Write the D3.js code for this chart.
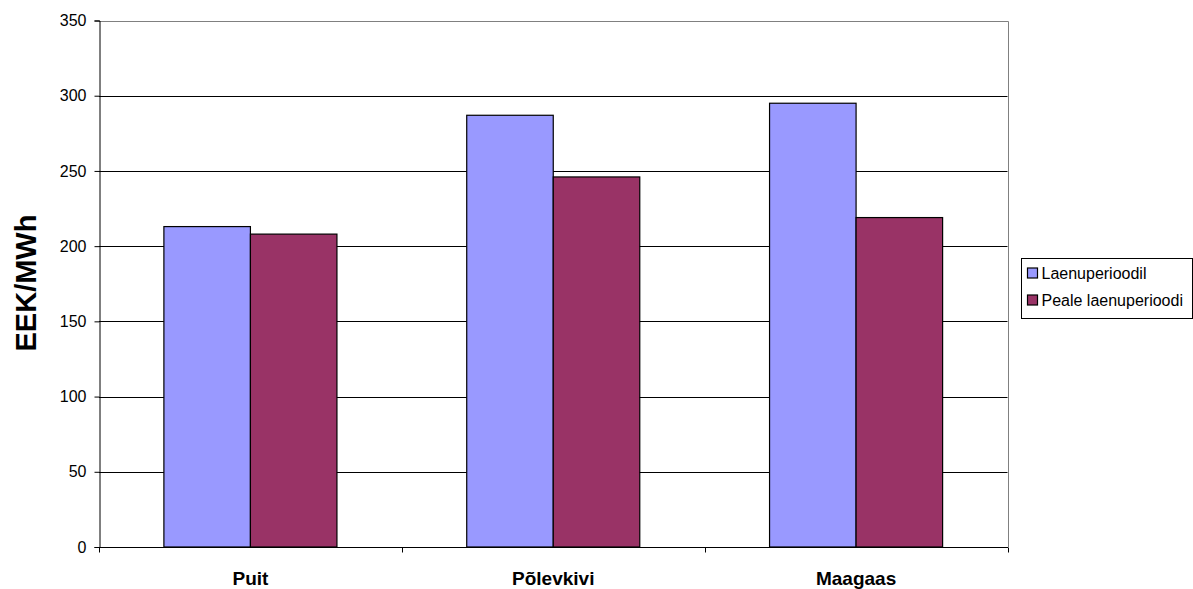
<!DOCTYPE html>
<html>
<head>
<meta charset="utf-8">
<script src="https://cdn.jsdelivr.net/npm/d3@7"></script>
<style>
  html, body { margin: 0; padding: 0; background: #fff; }
  svg { display: block; font-family: "Liberation Sans", Arial, sans-serif; }
</style>
</head>
<body>
<svg id="chart" width="1193" height="589"></svg>
<script>
// Heat price per fuel type, EEK/MWh
const categories = ["Puit", "Põlevkivi", "Maagaas"];
const seriesNames = ["Laenuperioodil", "Peale laenuperioodi"];
const loanPeriod = [213, 287, 295];
const afterLoanPeriod = [208, 246, 219];
const yTicks = [0, 50, 100, 150, 200, 250, 300, 350];
const colors = ["#9999ff", "#993366"];

const seriesValues = [loanPeriod, afterLoanPeriod];

const svg = d3.select("#chart");
const plot = { left: 99, right: 1007.5, top: 20.5, bottom: 547 };

const y = d3.scaleLinear().domain([0, 350]).range([plot.bottom, plot.top]);
const x0 = d3.scaleBand().domain(categories).range([plot.left, plot.right]).padding(0);
// two bars take 2 / 3.5 of each category slot, centred
const groupW = x0.bandwidth() * 2 / 3.5;
const x1 = d3.scaleBand().domain(seriesNames).range([0, groupW]).padding(0);

// horizontal gridlines
svg.append("g")
  .selectAll("line")
  .data(yTicks.filter(t => t > 0 && t < 350))
  .join("line")
  .attr("x1", plot.left).attr("x2", plot.right)
  .attr("y1", d => Math.round(y(d)) + 0.5).attr("y2", d => Math.round(y(d)) + 0.5)
  .attr("stroke", "#000").attr("stroke-width", 1);

// plot area frame (top and right)
svg.append("path")
  .attr("d", `M${plot.left},${Math.round(plot.top) + 0.5}H${Math.round(plot.right) + 0.5}V${plot.bottom}`)
  .attr("fill", "none").attr("stroke", "#808080").attr("stroke-width", 1);

// bars
const groups = svg.append("g")
  .selectAll("g")
  .data(categories)
  .join("g")
  .attr("transform", d => `translate(${x0(d) + (x0.bandwidth() - groupW) / 2},0)`);

groups.selectAll("rect")
  .data((c, i) => seriesNames.map((s, k) => ({ s, v: seriesValues[k][i], k })))
  .join("rect")
  .attr("x", d => x1(d.s))
  .attr("y", d => y(d.v))
  .attr("width", x1.bandwidth())
  .attr("height", d => plot.bottom - y(d.v))
  .attr("fill", d => colors[d.k])
  .attr("stroke", "#000")
  .attr("stroke-width", 1.2);

// y axis
const yAxis = d3.axisLeft(y).tickValues(yTicks).tickSize(5).tickPadding(8);
const gy = svg.append("g")
  .attr("transform", `translate(${plot.left + 0.5},0)`)
  .call(yAxis);
gy.select(".domain").attr("stroke", "#000");
gy.selectAll(".tick line").attr("stroke", "#000");
gy.selectAll(".tick text")
  .attr("font-size", 16)
  .attr("font-family", "Liberation Sans, Arial, sans-serif")
  .attr("fill", "#000");

// x axis with ticks at category boundaries
const gx = svg.append("g")
  .attr("transform", `translate(0,${plot.bottom + 0.5})`);
gx.append("line")
  .attr("x1", plot.left).attr("x2", plot.right + 0.5)
  .attr("stroke", "#000");
const bounds = categories.map(c => x0(c)).concat([plot.right]);
gx.selectAll("line.tk")
  .data(bounds)
  .join("line")
  .attr("class", "tk")
  .attr("x1", d => Math.round(d) + 0.5).attr("x2", d => Math.round(d) + 0.5)
  .attr("y1", 0).attr("y2", 5)
  .attr("stroke", "#000");
gx.selectAll("text")
  .data(categories)
  .join("text")
  .attr("x", d => x0(d) + x0.bandwidth() / 2)
  .attr("y", 37)
  .attr("text-anchor", "middle")
  .attr("font-size", 19)
  .attr("font-weight", "bold")
  .attr("fill", "#000")
  .text(d => d);

// y axis title
svg.append("text")
  .attr("transform", "translate(36,283) rotate(-90)")
  .attr("text-anchor", "middle")
  .attr("font-size", 29)
  .attr("font-weight", "bold")
  .attr("fill", "#000")
  .text("EEK/MWh");

// legend
const legend = svg.append("g").attr("transform", "translate(1021.5,258.5)");
legend.append("rect")
  .attr("width", 171).attr("height", 60)
  .attr("fill", "#fff").attr("stroke", "#000").attr("stroke-width", 1);
const items = legend.selectAll("g.item")
  .data(seriesNames)
  .join("g")
  .attr("class", "item")
  .attr("transform", (d, i) => `translate(0,${14.5 + i * 27})`);
items.append("rect")
  .attr("x", 6).attr("y", -5)
  .attr("width", 10).attr("height", 10)
  .attr("fill", (d, i) => colors[i])
  .attr("stroke", "#000").attr("stroke-width", 1.2);
items.append("text")
  .attr("x", 20).attr("y", 6)
  .attr("font-size", 16)
  .attr("fill", "#000")
  .text(d => d);
</script>
</body>
</html>
